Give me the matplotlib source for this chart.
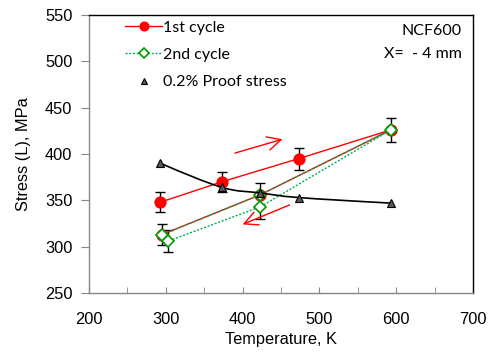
import matplotlib
matplotlib.use("Agg")
import matplotlib.pyplot as plt
from matplotlib.path import Path
from matplotlib.patches import PathPatch, FancyArrowPatch
import numpy as np

# Data
cycle1_T = [293, 373, 473, 593, 423, 295]
cycle1_S = [348, 370, 395, 426, 356, 313]
cycle1_err = [11, 11, 12, 13, 13, 11]

cycle2_T = [295, 423, 593, 423, 303]
cycle2_S = [313, 356, 426, 343, 306]
cycle2_err = [0, 0, 0, 13, 12]

proof_T = [293, 373, 423, 473, 593]
proof_S = [390, 364, 358, 353, 347]

heat_arrow = [(390, 401), (452, 416)]
cool_arrow = [(461, 345), (400, 324)]

W, H = 491, 352
fig = plt.figure(figsize=(W / 100, H / 100), dpi=100)
ax = fig.add_axes([89 / W, 1 - 293 / H, (473 - 89) / W, (293 - 15) / H])

tick_family = ["Liberation Sans", "DejaVu Sans"]
tick_size = 11.8
leg_family = ["Lato", "DejaVu Sans"]

red = "#FF0000"
green_line = "#00B050"
green_edge = "#009A00"

# 1st cycle
ax.errorbar(cycle1_T, cycle1_S, yerr=cycle1_err, fmt="none", ecolor="black",
            elinewidth=1.0, capsize=3.5, capthick=1.0, zorder=2)
l1, = ax.plot(cycle1_T, cycle1_S, color=red, lw=1.0, marker="o", ms=7.8,
              mfc=red, mec=red, zorder=3)

# 2nd cycle
ax.errorbar(cycle2_T, cycle2_S, yerr=cycle2_err, fmt="none",
            ecolor="black", elinewidth=1.0, capsize=3.5, capthick=1.0, zorder=2)
l2, = ax.plot(cycle2_T, cycle2_S, color=green_line, lw=1.0, ls=(0, (1.5, 1.2)),
              marker="D", ms=6, mfc="white", mec=green_edge, mew=1.2, zorder=4)

# Proof stress: smooth curve (cubic Hermite -> Bezier) through points
P = np.column_stack([proof_T, proof_S]).astype(float)
n = len(P)
m = np.zeros_like(P)
for i in range(1, n - 1):
    m[i] = (P[i + 1] - P[i - 1]) / 2.0
m[0] = (3 * (P[1] - P[0]) - m[1]) / 2.0
m[-1] = (3 * (P[-1] - P[-2]) - m[-2]) / 2.0
verts = [tuple(P[0])]
codes = [Path.MOVETO]
for i in range(n - 1):
    c1 = P[i] + m[i] / 3.0
    c2 = P[i + 1] - m[i + 1] / 3.0
    verts += [tuple(c1), tuple(c2), tuple(P[i + 1])]
    codes += [Path.CURVE4] * 3
ax.add_patch(PathPatch(Path(verts, codes), fill=False, edgecolor="black", lw=1.2, zorder=5))
l3, = ax.plot(proof_T, proof_S, ls="none", marker="^", ms=6, mfc="#595959",
              mec="black", mew=0.8, zorder=6)

# Arrows
for (a, b) in [heat_arrow, cool_arrow]:
    ax.add_patch(FancyArrowPatch(a, b, arrowstyle="->,head_length=0.7,head_width=0.35",
                                 color=red, lw=1.0, mutation_scale=14,
                                 shrinkA=0, shrinkB=0, zorder=3))

ax.set_xlim(200, 700)
ax.set_ylim(250, 550)
ax.set_xticks([200, 300, 400, 500, 600, 700])
ax.set_xticks([250, 350, 450, 550, 650], minor=True)
ax.set_yticks(np.arange(250, 551, 50))
ax.tick_params(axis="x", which="both", direction="in", length=4, color="#868686",
               pad=14)
ax.tick_params(axis="y", which="both", direction="out", length=6, color="#868686",
               pad=6)
ax.tick_params(top=False, right=False)
for lab in ax.get_xticklabels() + ax.get_yticklabels():
    lab.set_fontfamily(tick_family)
    lab.set_fontsize(tick_size)

ax.spines["left"].set_color("#868686")
ax.spines["bottom"].set_color("#868686")
ax.spines["top"].set_color("black")
ax.spines["right"].set_color("black")
for s in ax.spines.values():
    s.set_linewidth(1.0)

ax.set_xlabel("Temperature, K", fontfamily=tick_family, fontsize=tick_size, labelpad=3)
ax.set_ylabel("Stress (L), MPa", fontfamily=tick_family, fontsize=tick_size, labelpad=10)

leg = ax.legend([l1, l2, l3], ["1st cycle", "2nd cycle", "0.2% Proof stress"],
                loc="upper left", bbox_to_anchor=(119 / W, 1 - 14 / H),
                bbox_transform=fig.transFigure, frameon=False,
                prop=dict(family=leg_family, size=11.5), handlelength=2.3,
                handletextpad=0.05, labelspacing=0.82, borderaxespad=0,
                markerscale=0.8)

fig.text(462 / W, 1 - 31 / H, "NCF600", ha="right", va="center",
         fontfamily=leg_family, fontsize=11.5)
fig.text(462 / W, 1 - 54 / H, "X=  - 4 mm", ha="right", va="center",
         fontfamily=leg_family, fontsize=11.5)

fig.savefig("out.png", dpi=100)
